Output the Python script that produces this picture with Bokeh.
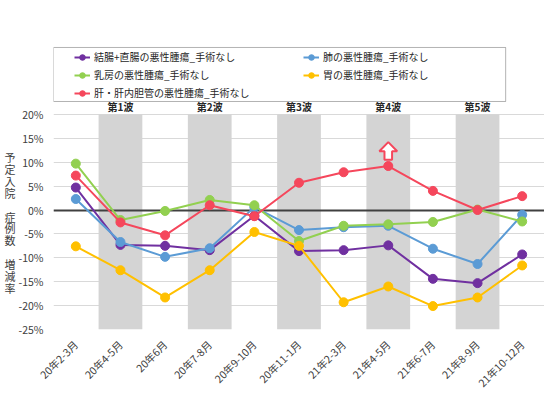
import math
from bokeh.plotting import figure
from bokeh.models import (FactorRange, FixedTicker, PrintfTickFormatter, Legend, LegendItem,
                          ColumnDataSource, LabelSet, BoxAnnotation)
from bokeh.core.properties import value
from bokeh.embed import file_html
from bokeh.resources import INLINE

FONT = "Noto Sans CJK JP"

categories = ["20年2-3月", "20年4-5月", "20年6月", "20年7-8月", "20年9-10月", "20年11-1月",
              "21年2-3月", "21年4-5月", "21年6-7月", "21年8-9月", "21年10-12月"]

series_names = ["結腸+直腸の悪性腫瘍_手術なし", "肺の悪性腫瘍_手術なし", "乳房の悪性腫瘍_手術なし",
                "胃の悪性腫瘍_手術なし", "肝・肝内胆管の悪性腫瘍_手術なし"]
colon = [4.7, -7.3, -7.5, -8.4, -1.2, -8.6, -8.4, -7.4, -14.4, -15.3, -9.3]
lung = [2.3, -6.7, -9.8, -8.0, 0.6, -4.2, -3.6, -3.3, -8.1, -11.3, -1.0]
breast = [9.7, -2.1, -0.2, 2.1, 1.0, -6.5, -3.3, -3.0, -2.5, 0.1, -2.4]
stomach = [-7.6, -12.6, -18.3, -12.6, -4.6, -7.5, -19.3, -16.0, -20.1, -18.3, -11.6]
liver = [7.2, -2.6, -5.3, 1.0, -1.3, 5.7, 7.9, 9.2, 4.0, 0.0, 2.9]
series_values = [colon, lung, breast, stomach, liver]
series_colors = ["#7030a0", "#5b9bd5", "#92d050", "#ffc000", "#f5475c"]

wave_categories = ["20年4-5月", "20年7-8月", "20年11-1月", "21年4-5月", "21年8-9月"]
wave_labels = ["第1波", "第2波", "第3波", "第4波", "第5波"]

y_ticks = [-25, -20, -15, -10, -5, 0, 5, 10, 15, 20]
y_min, y_max = -25, 20
y_title = "\n\n\n\n\n\n予\n定\n入\n院\n\n症\n例\n数\n\n増\n減\n率"

arrow_category = "21年4-5月"
arrow_tip, arrow_neck, arrow_base = 14.2, 12.3, 10.5

# layout: plot area spans y_min..y_max, extra room above (inside frame) for legend & wave labels
TOP, BOTTOM, LEFT = 44, 75, 53
H, W = 404, 544
px_per_unit = 4.78
y_top = y_min + (H - TOP - BOTTOM) / px_per_unit

p = figure(width=W, height=H, x_range=FactorRange(*categories), y_range=(y_min, y_top),
           output_backend="svg", toolbar_location=None,
           min_border_left=LEFT, min_border_right=0, min_border_top=TOP, min_border_bottom=BOTTOM)
p.outline_line_color = None
p.background_fill_color = "white"

# bands
p.vbar(x=wave_categories, top=y_max, bottom=y_min, width=0.98, fill_color="#d4d4d4",
       line_color=None)

# zero line
p.hspan(y=[0], line_color="#404040", line_width=2)

# series
items = []
for name, vals, col in zip(series_names, series_values, series_colors):
    src = ColumnDataSource(dict(x=categories, y=vals))
    r1 = p.line("x", "y", source=src, line_color=col, line_width=2)
    r2 = p.scatter("x", "y", source=src, size=9, fill_color=col, line_color=col)
    items.append(LegendItem(label=name, renderers=[r1, r2]))

# hollow arrow
aidx = categories.index(arrow_category) + 0.5
hw, sw = 0.2, 0.085
ax = [aidx - sw, aidx - sw, aidx - hw, aidx, aidx + hw, aidx + sw, aidx + sw]
ay = [arrow_base, arrow_neck, arrow_neck, arrow_tip, arrow_neck, arrow_neck, arrow_base]
p.patch(x=ax, y=ay, fill_color="white", line_color="#f5475c", line_width=2)

# wave labels
wsrc = ColumnDataSource(dict(x=wave_categories, y=[y_max] * len(wave_categories), t=wave_labels))
p.add_layout(LabelSet(x="x", y="y", text="t", source=wsrc, y_offset=0, text_align="center",
                      text_baseline="bottom", text_font=value(FONT), text_font_size="10px",
                      text_font_style="bold", text_color="#262626"))

# axes
p.yaxis.ticker = FixedTicker(ticks=y_ticks)
p.yaxis.formatter = PrintfTickFormatter(format="%d%%")
p.yaxis.axis_line_color = None
p.yaxis.major_tick_line_color = None
p.yaxis.minor_tick_line_color = None
p.yaxis.major_tick_out = 0
p.yaxis.major_tick_in = 0
p.yaxis.minor_tick_out = 0
p.yaxis.minor_tick_in = 0
p.yaxis.major_label_text_font = FONT
p.yaxis.major_label_text_font_size = "10.5px"
p.yaxis.major_label_text_color = "#404040"
p.yaxis.major_label_standoff = 10
p.yaxis.axis_label = y_title
p.yaxis.axis_label_orientation = "horizontal"
p.yaxis.axis_label_text_font = FONT
p.yaxis.axis_label_text_font_size = "11px"
p.yaxis.axis_label_text_font_style = "normal"
p.yaxis.axis_label_text_color = "#404040"
p.yaxis.axis_label_text_line_height = 0.74
p.yaxis.axis_label_standoff = 0

p.xaxis.axis_line_color = None
p.xaxis.major_tick_line_color = None
p.xaxis.major_tick_out = 0
p.xaxis.major_tick_in = 0
p.xaxis.major_label_orientation = math.pi / 4
p.xaxis.major_label_text_font = FONT
p.xaxis.major_label_text_font_size = "10.5px"
p.xaxis.major_label_text_color = "#404040"
p.xaxis.major_label_standoff = 13

p.xgrid.grid_line_color = None
p.ygrid.grid_line_color = "#d9d9d9"
p.ygrid.grid_line_width = 1

# legend (frame coordinates, placed in the space above the plot area)
legend = Legend(items=items, orientation="horizontal", ncols=2, location=(21, 229),
                border_line_color=None, background_fill_alpha=0, padding=4, spacing=3,
                margin=0, glyph_width=16, glyph_height=14, label_height=14, label_width=206,
                label_standoff=4, label_text_font=FONT, label_text_font_size="10px",
                label_text_color="#262626")
p.add_layout(legend, "center")
p.add_layout(BoxAnnotation(left=0, right=10.13, bottom=y_max + 2.7, top=y_max + 14.0,
                           fill_alpha=0, line_color="black", line_width=1))

open("out.html", "w").write(file_html(p, INLINE))
